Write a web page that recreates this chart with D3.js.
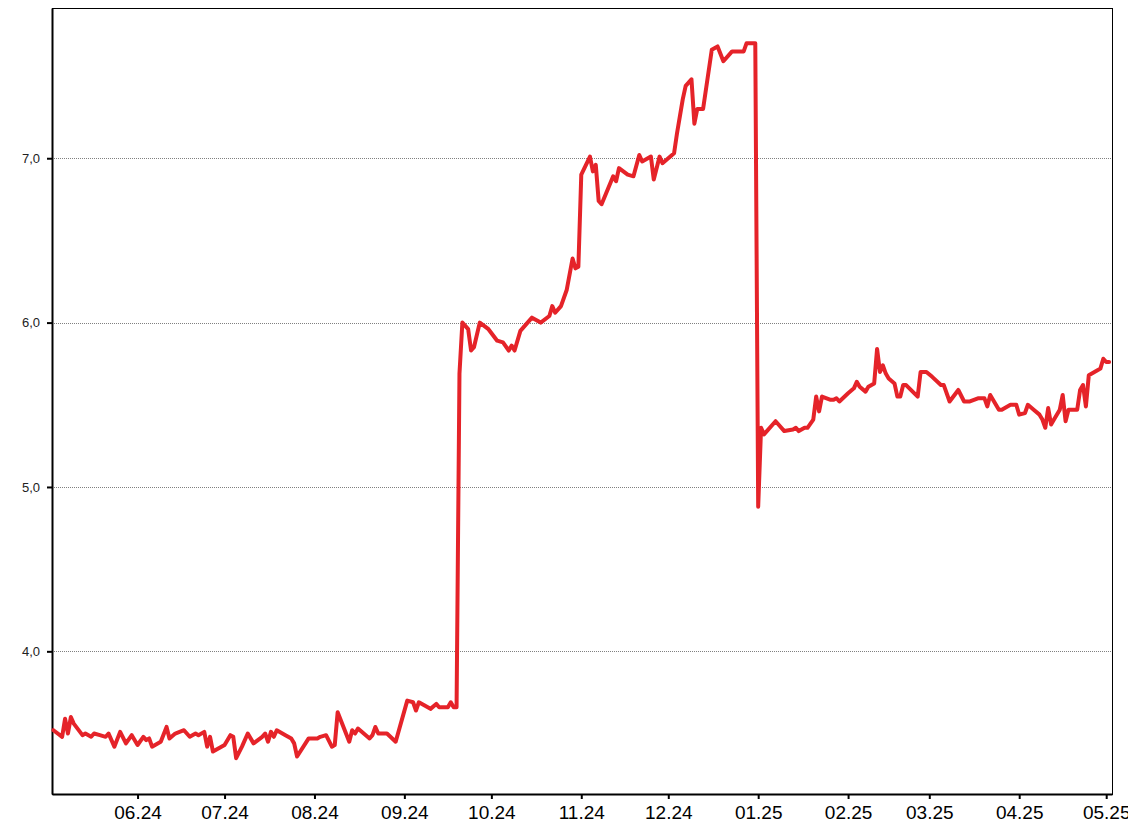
<!DOCTYPE html>
<html>
<head>
<meta charset="utf-8">
<script src="https://cdn.jsdelivr.net/npm/d3@7"></script>
<style>
  html, body { margin: 0; padding: 0; background: #fff; }
  svg { display: block; }
</style>
</head>
<body>
<svg id="chart" width="1128" height="836"></svg>
<script>
// ---- data ----
const dates = [
  "2024-05-03","2024-05-06","2024-05-07","2024-05-08","2024-05-09","2024-05-10","2024-05-13","2024-05-14","2024-05-16","2024-05-17",
  "2024-05-19","2024-05-21","2024-05-22","2024-05-24","2024-05-26","2024-05-28","2024-05-30","2024-06-01","2024-06-03","2024-06-04",
  "2024-06-05","2024-06-06","2024-06-09","2024-06-11","2024-06-12","2024-06-14","2024-06-17","2024-06-19","2024-06-21","2024-06-22",
  "2024-06-24","2024-06-25","2024-06-26","2024-06-27","2024-07-01","2024-07-03","2024-07-04","2024-07-05","2024-07-07","2024-07-09",
  "2024-07-11","2024-07-14","2024-07-15","2024-07-16","2024-07-17","2024-07-18","2024-07-19","2024-07-22","2024-07-24","2024-07-25",
  "2024-07-26","2024-07-30","2024-08-02","2024-08-03","2024-08-05","2024-08-07","2024-08-08","2024-08-09","2024-08-13","2024-08-14",
  "2024-08-15","2024-08-16","2024-08-20","2024-08-21","2024-08-22","2024-08-23","2024-08-26","2024-08-29","2024-09-02","2024-09-04",
  "2024-09-05","2024-09-06","2024-09-10","2024-09-12","2024-09-13","2024-09-16","2024-09-17","2024-09-18","2024-09-19","2024-09-20",
  "2024-09-21","2024-09-23","2024-09-24","2024-09-25","2024-09-27","2024-09-30","2024-10-03","2024-10-05","2024-10-07","2024-10-08",
  "2024-10-09","2024-10-11","2024-10-15","2024-10-18","2024-10-21","2024-10-22","2024-10-23","2024-10-25","2024-10-27","2024-10-29",
  "2024-10-30","2024-10-31","2024-11-01","2024-11-04","2024-11-05","2024-11-06","2024-11-07","2024-11-08","2024-11-12","2024-11-13",
  "2024-11-14","2024-11-17","2024-11-19","2024-11-21","2024-11-22","2024-11-25","2024-11-26","2024-11-28","2024-11-29","2024-12-03",
  "2024-12-04","2024-12-06","2024-12-07","2024-12-09","2024-12-10","2024-12-11","2024-12-13","2024-12-16","2024-12-18","2024-12-20",
  "2024-12-23","2024-12-27","2024-12-28","2024-12-31","2025-01-01","2025-01-02","2025-01-03","2025-01-07","2025-01-08","2025-01-10",
  "2025-01-13","2025-01-14","2025-01-15","2025-01-17","2025-01-18","2025-01-20","2025-01-21","2025-01-22","2025-01-23","2025-01-26",
  "2025-01-27","2025-01-28","2025-01-29","2025-02-01","2025-02-03","2025-02-04","2025-02-05","2025-02-07","2025-02-08","2025-02-10",
  "2025-02-11","2025-02-12","2025-02-13","2025-02-14","2025-02-15","2025-02-17","2025-02-18","2025-02-19","2025-02-20","2025-02-21",
  "2025-02-25","2025-02-26","2025-02-28","2025-03-02","2025-03-05","2025-03-06","2025-03-08","2025-03-11","2025-03-13","2025-03-15",
  "2025-03-18","2025-03-20","2025-03-21","2025-03-22","2025-03-25","2025-03-26","2025-03-29","2025-03-31","2025-04-01","2025-04-03",
  "2025-04-04","2025-04-06","2025-04-08","2025-04-09","2025-04-10","2025-04-11","2025-04-12","2025-04-13","2025-04-15","2025-04-16",
  "2025-04-17","2025-04-18","2025-04-21","2025-04-22","2025-04-23","2025-04-24","2025-04-25","2025-04-28","2025-04-29","2025-04-30",
  "2025-05-01","2025-05-02"
];
const values = [
  3.52,3.48,3.59,3.50,3.60,3.56,3.49,3.50,3.48,3.50,
  3.49,3.48,3.50,3.42,3.51,3.44,3.49,3.43,3.48,3.46,
  3.47,3.42,3.45,3.54,3.47,3.50,3.52,3.48,3.50,3.49,
  3.51,3.42,3.48,3.39,3.43,3.49,3.48,3.35,3.42,3.50,
  3.44,3.48,3.50,3.45,3.51,3.48,3.52,3.49,3.47,3.44,
  3.36,3.47,3.47,3.48,3.49,3.42,3.43,3.63,3.45,3.52,
  3.50,3.53,3.47,3.49,3.54,3.50,3.50,3.45,3.70,3.69,
  3.64,3.69,3.65,3.68,3.66,3.66,3.69,3.66,3.66,5.69,
  6.00,5.96,5.83,5.85,6.00,5.96,5.89,5.88,5.83,5.86,
  5.83,5.95,6.03,6.00,6.04,6.10,6.06,6.10,6.20,6.39,
  6.33,6.34,6.90,7.01,6.92,6.96,6.74,6.72,6.89,6.86,
  6.94,6.90,6.89,7.02,6.98,7.01,6.87,7.01,6.97,7.03,
  7.15,7.36,7.44,7.48,7.21,7.30,7.30,7.66,7.68,7.59,
  7.65,7.65,7.70,7.70,4.88,5.36,5.32,5.40,5.38,5.34,
  5.35,5.36,5.34,5.36,5.36,5.41,5.55,5.46,5.55,5.53,
  5.53,5.54,5.52,5.57,5.60,5.64,5.61,5.58,5.61,5.63,
  5.84,5.70,5.74,5.69,5.66,5.63,5.55,5.55,5.62,5.62,
  5.55,5.70,5.70,5.67,5.62,5.62,5.52,5.59,5.52,5.52,
  5.54,5.54,5.49,5.56,5.47,5.47,5.50,5.50,5.44,5.45,
  5.50,5.47,5.44,5.41,5.36,5.48,5.38,5.41,5.47,5.56,
  5.40,5.47,5.47,5.59,5.62,5.49,5.68,5.71,5.72,5.78,
  5.76,5.76
];
const yTicks = [4, 5, 6, 7];
const xTickDates = ["2024-06-01","2024-07-01","2024-08-01","2024-09-01","2024-10-01","2024-11-01",
                    "2024-12-01","2025-01-01","2025-02-01","2025-03-01","2025-04-01","2025-05-01"];
const xDomain = ["2024-05-02T12:00", "2025-05-03T00:00"];
const yDomain = [3.132, 7.914];

// ---- drawing ----
(function () {
  const parseDay = d3.timeParse("%Y-%m-%d");
  const parseDT = d3.timeParse("%Y-%m-%dT%H:%M");
  const data = dates.map((d, i) => ({ date: parseDay(d), value: values[i] }));

  const mLeft = 52, mRight = 1112, mTop = 8, mBottom = 794;
  const svg = d3.select("#chart");

  const x = d3.scaleTime().domain(xDomain.map(parseDT)).range([mLeft, mRight]);
  const y = d3.scaleLinear().domain(yDomain).range([mBottom, mTop]);

  // gridlines
  svg.append("g").selectAll("line").data(yTicks).join("line")
    .attr("x1", mLeft).attr("x2", mRight)
    .attr("y1", d => Math.round(y(d)) + 0.5).attr("y2", d => Math.round(y(d)) + 0.5)
    .attr("stroke", "#808080").attr("stroke-width", 1).attr("stroke-dasharray", "1,1");

  // frame (top/right)
  svg.append("rect")
    .attr("x", mLeft + 0.5).attr("y", mTop + 0.5)
    .attr("width", mRight - mLeft).attr("height", mBottom - mTop)
    .attr("fill", "none").attr("stroke", "#000").attr("stroke-width", 1);

  // y axis
  const yAxis = d3.axisLeft(y).tickValues(yTicks).tickSize(5).tickSizeOuter(0).tickPadding(7)
    .tickFormat(d => d.toFixed(1).replace(".", ","));
  const gy = svg.append("g").attr("transform", `translate(${mLeft},0)`).call(yAxis);
  gy.select(".domain").attr("stroke", "#000").attr("stroke-width", 2);
  gy.selectAll(".tick line").attr("stroke", "#000").attr("stroke-width", 2);
  gy.selectAll(".tick text").attr("font-family", "Arial, 'Liberation Sans', sans-serif")
    .attr("font-size", 13).attr("fill", "#222");

  // x axis
  const xAxis = d3.axisBottom(x).tickValues(xTickDates.map(parseDay)).tickSize(5).tickSizeOuter(0).tickPadding(7)
    .tickFormat(d3.timeFormat("%m.%y"));
  const gx = svg.append("g").attr("transform", `translate(0,${mBottom})`).call(xAxis);
  gx.select(".domain").attr("stroke", "#000").attr("stroke-width", 2);
  gx.selectAll(".tick line").attr("stroke", "#000").attr("stroke-width", 2);
  gx.selectAll(".tick text").attr("font-family", "Arial, 'Liberation Sans', sans-serif")
    .attr("font-size", 19).attr("fill", "#000");

  // series line
  const line = d3.line().x(d => x(d.date)).y(d => y(d.value));
  svg.append("path").datum(data)
    .attr("d", line)
    .attr("fill", "none")
    .attr("stroke", "#e52329")
    .attr("stroke-width", 4)
    .attr("stroke-linejoin", "round")
    .attr("stroke-linecap", "round");
})();
</script>
</body>
</html>
